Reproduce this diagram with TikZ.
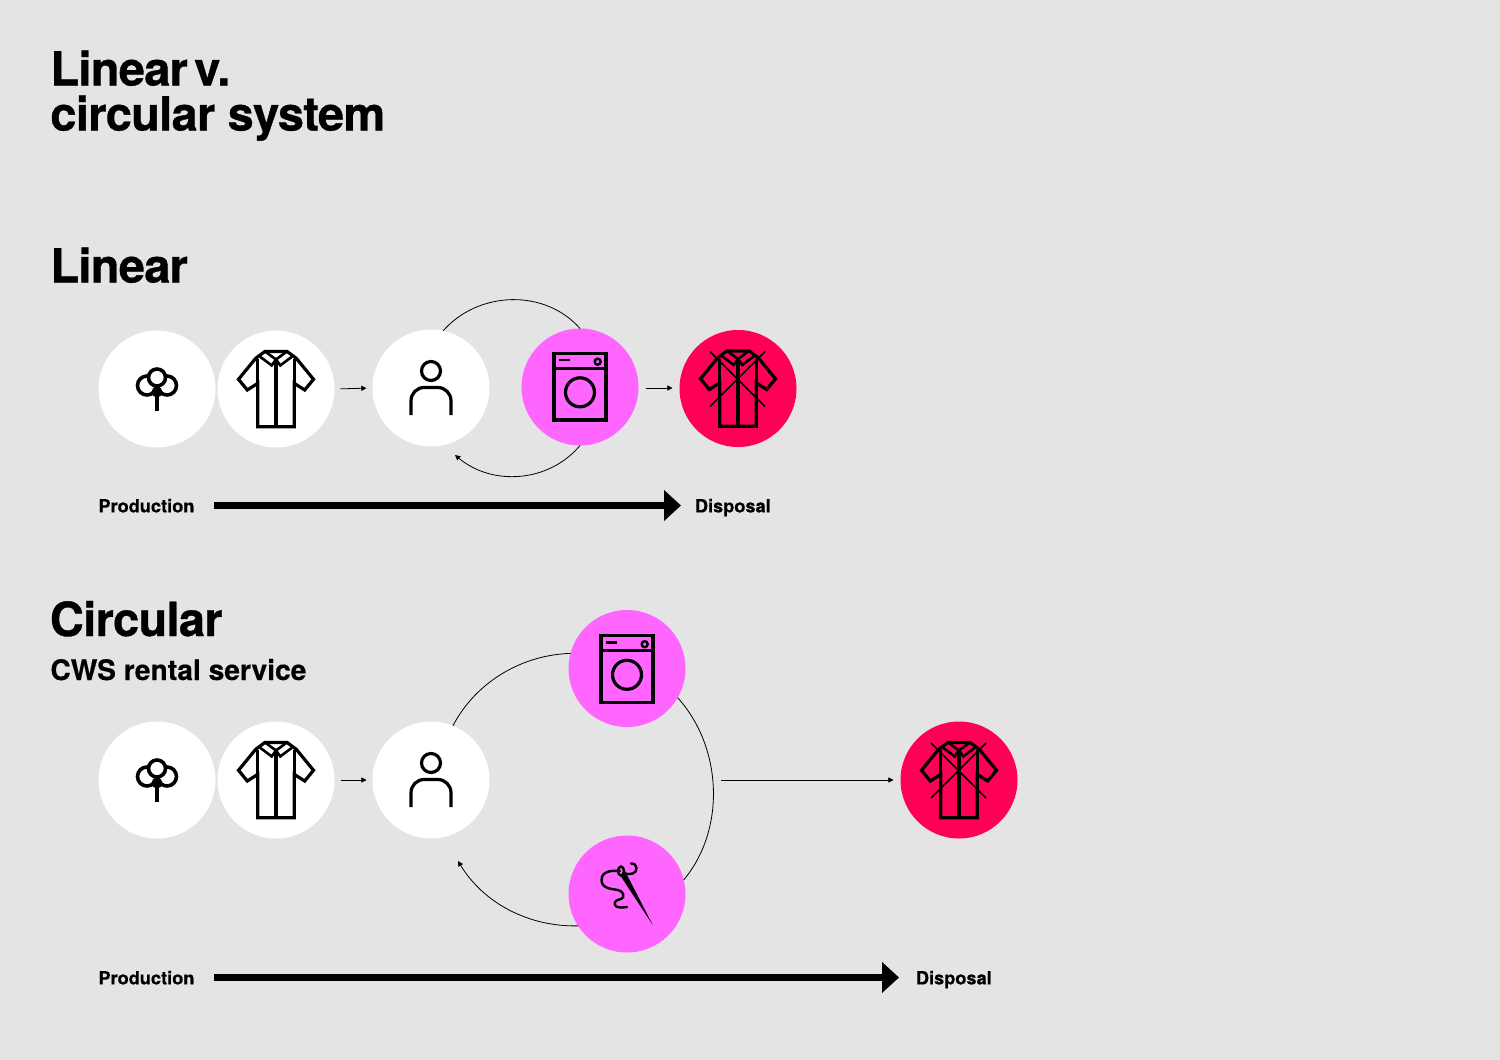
\documentclass[tikz,border=0pt]{standalone}
\usepackage{fontspec}
\setmainfont{TeX Gyre Heros}[BoldFont=* Bold]
\newfontfamily\headfont{TeX Gyre Heros Bold}[LetterSpace=-1.5,FakeBold=0.7]
\newfontfamily\labelfont{TeX Gyre Heros Bold}[FakeBold=0.4]
\usetikzlibrary{arrows.meta}
\definecolor{pagebg}{HTML}{E4E4E4}
\definecolor{washpink}{HTML}{FF66FF}
\definecolor{dumpred}{HTML}{FF0055}
\tikzset{
  x=0.5pt,y=-0.5pt,
  disc/.style={circle,minimum size=58.5pt,inner sep=0pt,outer sep=0pt,fill=#1},
  headA/.style={anchor=base west,inner sep=0pt,font=\headfont\fontsize{23.5}{26}\selectfont},
  headB/.style={anchor=base west,inner sep=0pt,font=\labelfont\fontsize{14.1}{16}\selectfont},
  axislabel/.style={anchor=west,inner sep=0pt,text height=8.5pt,text depth=1.6pt,font=\labelfont\fontsize{9.1}{11}\selectfont},
  icon/.style={line width=1.6pt,line join=miter},
  thinlink/.style={line width=0.4pt,-{Triangle[length=2.6pt,width=2.6pt]}},
  arcplain/.style={line width=0.4pt},
  axisarrow/.style={line width=3.5pt,-{Triangle[length=8.5pt,width=15pt]}},
  cottonicon/.pic={
    \draw[line width=1.8pt] (-10,-3.5) circle[radius=9.5];
    \draw[line width=1.8pt] (10,-3.5) circle[radius=9.5];
    \draw[line width=1.8pt,fill=white] (0,-11.5) circle[radius=8.5];
    \fill (0,3) circle[radius=5.5];
    \draw[line width=1.8pt] (0,3) -- (0,22);
  },
  shirticon/.pic={
    \draw[icon] (-11,-37.6) -- (11,-37.6) -- (20.3,-30.7) -- (37.5,-9.7) -- (28.7,1) -- (18.2,-5.7)
      -- (18.2,37.7) -- (-18.2,37.7) -- (-18.2,-5.7) -- (-28.7,1) -- (-37.5,-9.7) -- (-20.3,-30.7) -- cycle;
    \draw[icon] (-18.2,-5.7) -- (-18.2,-30);
    \draw[icon] (18.2,-5.7) -- (18.2,-30);
    \draw[line width=1.3pt] (-11,-37.6) -- (0,-29.5) -- (11,-37.6);
    \draw[line width=1.3pt] (-16,-32.3) -- (-4.3,-23.6) -- (0,-29.5) -- (4.3,-23.6) -- (16,-32.3);
    \draw[icon] (0,-29.5) -- (0,37.7);
  },
  personicon/.pic={
    \draw[icon] (0,-17) circle[radius=9.5];
    \draw[icon,rounded corners=6.6pt] (-20,27) -- (-20,-0.5) -- (20,-0.5) -- (20,27);
  },
  washericon/.pic={
    \draw[icon] (-26,-34.7) rectangle (26,32);
    \draw[icon] (-26,-19.7) -- (26,-19.7);
    \draw[line width=1.2pt] (-20.7,-28) -- (-10,-28);
    \draw[line width=1.2pt] (17.7,-26.3) circle[radius=3];
    \draw[icon] (0,4.3) circle[radius=14.5];
  },
  needleicon/.pic={
    \fill (-9,-22) -- (-3,-25) -- (25.7,31) -- cycle;
    \draw[line width=1.2pt,fill=washpink] (-6,-23) ellipse[x radius=3,y radius=4.5];
    \draw[line width=1.2pt,line cap=round] (-3.7,-20.7) .. controls (3,-19) and (10,-20) .. (9.5,-26) .. controls (9.2,-29) and (7.5,-30.5) .. (4,-30.5);
    \draw[line width=1.2pt,line cap=round] (-7,-23) .. controls (-13,-23.5) and (-25.5,-24) .. (-25.5,-14) .. controls (-25.5,-5) and (-14,-5) .. (-9,-4) .. controls (-3,-3) and (-2,4) .. (-6,5) .. controls (-11,6) and (-13,8) .. (-12,11) .. controls (-10.5,14.5) and (-4,13.5) .. (0,13);
  },
  crossmark/.pic={
    \draw[line width=0.75pt] (-28,-37) -- (27,18);
    \draw[line width=0.75pt] (27,-37) -- (-28,18);
  },
}
\begin{document}
\begin{tikzpicture}
\fill[pagebg] (0,0) rectangle (1500,1060);
\useasboundingbox (0,0) rectangle (1500,1060);

% headings
\node[headA] (title1) at (50,85.5) {Linear\hspace{-3pt} v.};
\node[headA] (title2) at (50,130.5) {circular system};
\node[headA] (headlinear) at (50,282.5) {Linear};
\node[headA] (headcircular) at (49.5,636) {Circular};
\node[headB] (subcircular) at (50,680) {CWS rental service};

% linear row
\node[disc=white] (cotton1) at (157,389) {};
\node[disc=white] (shirt1) at (276,389) {};
\node[disc=white] (person1) at (431,388) {};
\node[disc=washpink] (washer1) at (580,387) {};
\node[disc=dumpred] (dump1) at (738,388.5) {};
\pic at (cotton1) {cottonicon};
\pic at (shirt1) {shirticon};
\pic at (person1) {personicon};
\pic[yshift=-0.5pt] at (washer1) {washericon};
\pic at (dump1) {shirticon};
\pic at (dump1) {crossmark};

\draw[thinlink,shorten <=3pt,shorten >=3pt] (shirt1.east) -- (person1.west);
\draw[thinlink,shorten <=3.5pt,shorten >=3.5pt] (washer1.east |- person1) -- (dump1.west |- person1);
\draw[arcplain] (person1.78) .. controls +(35.2,-40) and +(-35.2,-40) .. (washer1.90);
\coordinate (tip1) at (455,455);
\draw[thinlink] (washer1.270) .. controls +(-31.2,37.2) and +(37.2,31.2) .. (tip1);

\node[axislabel] (prod1) at (98,505.5) {Production};
\node[axislabel] (disp1) at (694.5,505.5) {Disposal};
\draw[axisarrow,shorten <=9.5pt,shorten >=6.75pt] (prod1.east) -- (disp1.west);

% circular row
\node[disc=white] (cotton2) at (157,780) {};
\node[disc=white] (shirt2) at (276,780) {};
\node[disc=white] (person2) at (431,780) {};
\node[disc=washpink] (washer2) at (627,668.5) {};
\node[disc=washpink] (needle2) at (627,894) {};
\node[disc=dumpred] (dump2) at (959,780) {};
\pic at (cotton2) {cottonicon};
\pic at (shirt2) {shirticon};
\pic at (person2) {personicon};
\pic[yshift=-1pt] at (washer2) {washericon};
\pic at (needle2) {needleicon};
\pic at (dump2) {shirticon};
\pic at (dump2) {crossmark};

\coordinate (exit2) at (721,780);
\coordinate (tip2) at (458,861);
\draw[thinlink,shorten <=3pt,shorten >=3pt] (shirt2.east) -- (person2.west);
\draw[thinlink,shorten >=3.5pt] (exit2) -- (dump2.west);
\draw[arcplain] (person2.68) .. controls +(22.9,-43.6) and +(-49.3,1.7) .. (washer2.165);
\draw[arcplain] (washer2.-30) .. controls +(44.5,49) and +(42.5,-51) .. (needle2.14);
\draw[thinlink] (needle2.213) .. controls +(-49.3,1.1) and +(25.6,42.1) .. (tip2);

\node[axislabel] (prod2) at (98,977.5) {Production};
\node[axislabel] (disp2) at (915.5,977.5) {Disposal};
\draw[axisarrow,shorten <=9.5pt,shorten >=8.25pt] (prod2.east) -- (disp2.west);
\end{tikzpicture}
\end{document}
